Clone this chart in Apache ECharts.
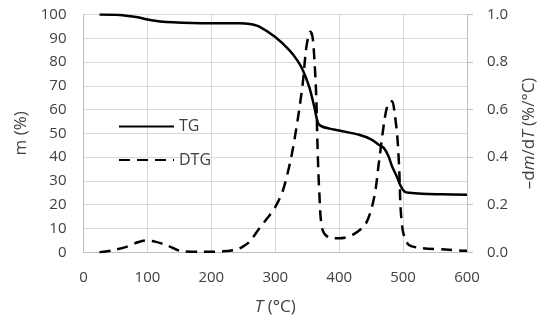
<!DOCTYPE html>
<html>
<head>
<meta charset="utf-8">
<script src="https://cdn.jsdelivr.net/npm/echarts@6/dist/echarts.min.js"></script>
<style>html,body{margin:0;padding:0;background:#fff;}#c{width:550px;height:325px;}</style>
</head>
<body>
<div id="c"></div>
<script>
// TG curve: temperature (°C) and mass (%)
var tgT = [25, 50, 67, 85, 104, 120, 140, 170, 197, 244, 260, 275, 300, 322, 335, 343, 353, 361, 367, 373, 385, 400, 431, 450, 462, 470, 477, 483, 490, 496, 502, 510, 530, 560, 600];
var tgM = [100, 99.9, 99.5, 98.8, 97.7, 97.1, 96.7, 96.4, 96.3, 96.3, 96.0, 94.9, 90.5, 85, 80.5, 76.7, 69.7, 61.3, 54.3, 52.9, 52.0, 51.2, 49.4, 47.5, 45.2, 43.8, 40.5, 36, 32, 28, 25.6, 25.0, 24.6, 24.4, 24.2];
// DTG curve: temperature (°C) and -dm/dT (%/°C)
var dtgT = [25, 45, 67, 85, 98, 112, 130, 155, 187, 218, 240, 250, 260, 275, 288, 300, 312, 325, 335, 343, 348, 352, 355, 358, 360, 364, 366, 369, 374, 387, 400, 421, 442, 455, 462, 470, 475, 480, 483, 487, 491, 494, 496, 499, 502, 509, 530, 566, 592, 600];
var dtgV = [0, 0.008, 0.023, 0.042, 0.05, 0.045, 0.03, 0.004, 0.002, 0.004, 0.012, 0.025, 0.045, 0.1, 0.145, 0.19, 0.26, 0.40, 0.556, 0.71, 0.85, 0.91, 0.927, 0.91, 0.864, 0.668, 0.458, 0.248, 0.094, 0.059, 0.059, 0.073, 0.122, 0.234, 0.374, 0.54, 0.612, 0.635, 0.635, 0.58, 0.486, 0.346, 0.19, 0.10, 0.066, 0.031, 0.017, 0.012, 0.007, 0.006];
// axis ticks
var xTicks = [0, 100, 200, 300, 400, 500, 600];
var leftTicks = [0, 10, 20, 30, 40, 50, 60, 70, 80, 90, 100];
var rightTicks = [0.0, 0.2, 0.4, 0.6, 0.8, 1.0];

var tgData = tgT.map(function (t, i) { return [t, tgM[i]]; });
var dtgData = dtgT.map(function (t, i) { return [t, dtgV[i]]; });

var FONT = '"Open Sans", "Noto Sans", sans-serif';
var txt = '#404040';
var chart = echarts.init(document.getElementById('c'));
chart.setOption({
  animation: false,
  backgroundColor: '#fff',
  textStyle: { fontFamily: FONT },
  grid: { left: 83.5, right: 83, top: 14.5, bottom: 72.7 },
  legend: {
    orient: 'vertical', left: 118, top: 118.5, padding: 0,
    itemWidth: 55, itemHeight: 14, itemGap: 17.5,
    textStyle: { fontFamily: FONT, fontSize: 16, color: txt },
    itemStyle: { opacity: 0 },
    data: ['TG', 'DTG']
  },
  xAxis: {
    type: 'value', min: xTicks[0], max: xTicks[xTicks.length - 1], interval: 100,
    name: '{i|T} (°C)', nameLocation: 'middle', nameGap: 46,
    nameTextStyle: { fontFamily: FONT, fontSize: 17, color: txt, rich: { i: { fontStyle: 'italic', fontFamily: FONT, fontSize: 17, color: txt } } },
    axisLine: { lineStyle: { color: '#BFBFBF', width: 1 } },
    axisTick: { show: false },
    axisLabel: { fontFamily: FONT, fontSize: 15, color: txt, margin: 18 },
    splitLine: { show: true, lineStyle: { color: '#D9D9D9', width: 1 } }
  },
  yAxis: [
    {
      type: 'value', min: leftTicks[0], max: leftTicks[leftTicks.length - 1], interval: 10,
      name: 'm (%)', nameLocation: 'middle', nameRotate: 90, nameGap: 50,
      nameTextStyle: { fontFamily: FONT, fontSize: 17, color: txt },
      axisLine: { show: true, lineStyle: { color: '#BFBFBF', width: 1 } },
      axisTick: { show: false },
      axisLabel: { fontFamily: FONT, fontSize: 15, color: txt, margin: 17 },
      splitLine: { show: true, lineStyle: { color: '#D9D9D9', width: 1 } }
    },
    {
      type: 'value', position: 'right', min: rightTicks[0], max: rightTicks[rightTicks.length - 1], interval: 0.2,
      name: '–d{i|m}/d{i|T} (%/°C)', nameLocation: 'middle', nameRotate: 90, nameGap: 54,
      nameTextStyle: { fontFamily: FONT, fontSize: 17, color: txt, rich: { i: { fontStyle: 'italic', fontFamily: FONT, fontSize: 17, color: txt } } },
      axisLine: { show: true, lineStyle: { color: '#BFBFBF', width: 1 } },
      axisTick: { show: true, inside: false, length: 6, lineStyle: { color: '#BFBFBF' } },
      axisLabel: { fontFamily: FONT, fontSize: 15, color: txt, margin: 20, formatter: function (v) { return v.toFixed(1); } },
      splitLine: { show: false }
    }
  ],
  series: [
    {
      name: 'TG', type: 'line', yAxisIndex: 0, data: tgData,
      showSymbol: false, symbol: 'none', smooth: 0.3,
      lineStyle: { color: '#000', width: 2.5, type: 'solid' },
      itemStyle: { color: '#000' }
    },
    {
      name: 'DTG', type: 'line', yAxisIndex: 1, data: dtgData,
      showSymbol: false, symbol: 'none', smooth: 0.3,
      lineStyle: { color: '#000', width: 2.5, type: [11, 7] },
      itemStyle: { color: '#000' }
    }
  ]
});
</script>
</body>
</html>
